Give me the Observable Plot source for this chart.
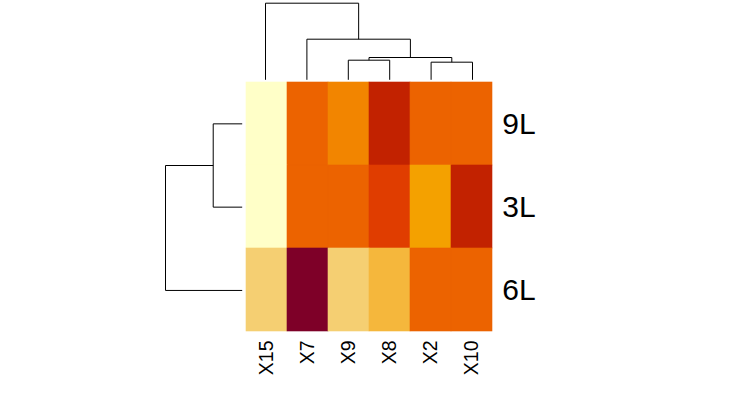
<!DOCTYPE html>
<html>
<head>
<meta charset="utf-8">
<script src="https://cdn.jsdelivr.net/npm/d3@7"></script>
<script src="https://cdn.jsdelivr.net/npm/@observablehq/plot@0.6"></script>
<style>
  body { margin: 0; background: white; }
  #wrap { position: relative; width: 735px; height: 411px; font-family: "Liberation Sans", Arial, sans-serif; }
  #wrap svg { position: absolute; left: 0; top: 0; }
</style>
</head>
<body>
<div id="wrap"></div>
<script>
// Row and column labels (in dendrogram order)
const rowNames = ["9L", "3L", "6L"];
const colNames = ["X15", "X7", "X9", "X8", "X2", "X10"];

// Cell colour levels per row (1 = darkest red ... 9 = palest yellow)
const row9L = [9, 4, 5, 2, 4, 4];
const row3L = [9, 4, 4, 3, 6, 2];
const row6L = [8, 1, 8, 7, 4, 4];

const levels = [1, 2, 3, 4, 5, 6, 7, 8, 9];
const palette = ["#7e0028", "#c22200", "#e03d00", "#ec6300", "#f28500", "#f4a100", "#f5b73c", "#f5cf72", "#ffffc8"];

// Dendrogram merges: [left, right, height]; numbers refer to earlier merges
const colMerges = [["X9", "X8", 0.256], ["X2", "X10", 0.230], [0, 1, 0.291], ["X7", 2, 0.530], ["X15", 3, 1.0]];
const rowMerges = [["9L", "3L", 0.378], [0, "6L", 1.0]];

function dendroSegments(merges, order) {
  const nodes = [];
  const pos = k => typeof k === "number" ? nodes[k] : {p: order.indexOf(k) + 0.5, h: 0};
  const segs = [];
  merges.forEach(([a, b, h]) => {
    const A = pos(a), B = pos(b);
    segs.push({p1: A.p, h1: A.h, p2: A.p, h2: h});
    segs.push({p1: B.p, h1: B.h, p2: B.p, h2: h});
    segs.push({p1: A.p, h1: h, p2: B.p, h2: h});
    nodes.push({p: (A.p + B.p) / 2, h});
  });
  return segs;
}

const rowsData = [row9L, row3L, row6L];
const cells = [];
rowNames.forEach((r, i) => colNames.forEach((c, j) => cells.push({row: r, col: c, v: rowsData[i][j]})));

const W = 735, H = 411;
const hmLeft = 244.3, hmRight = 492.7, hmTop = 81.7, hmBottom = 331.6;
const font = "Liberation Sans, Arial, sans-serif";

const heat = Plot.plot({
  width: W, height: H,
  marginLeft: hmLeft, marginRight: W - hmRight, marginTop: hmTop, marginBottom: H - hmBottom,
  style: {background: "transparent", fontFamily: font},
  x: {type: "band", domain: colNames, padding: 0, axis: null},
  y: {type: "band", domain: rowNames, padding: 0, axis: null},
  color: {type: "ordinal", domain: levels, range: palette},
  marks: [
    Plot.cell(cells, {x: "col", y: "row", fill: "v", stroke: "v", strokeWidth: 0.6, inset: 0}),
    Plot.axisX({anchor: "bottom", tickSize: 0, tickPadding: 8.4, tickRotate: -90, fontSize: 19.5, fill: "black", label: null}),
    Plot.axisY({anchor: "right", tickSize: 0, tickPadding: 9, fontSize: 30, fill: "black", label: null})
  ]
});

const colDendro = Plot.plot({
  width: W, height: H,
  style: {background: "transparent"},
  x: {type: "linear", domain: [0, colNames.length], range: [hmLeft, hmRight], axis: null},
  y: {type: "linear", domain: [0, 1], range: [79.3, 2.7], axis: null},
  marks: [
    Plot.link(dendroSegments(colMerges, colNames), {x1: "p1", y1: "h1", x2: "p2", y2: "h2", stroke: "black", strokeWidth: 1})
  ]
});

const rowDendro = Plot.plot({
  width: W, height: H,
  style: {background: "transparent"},
  x: {type: "linear", domain: [0, 1], range: [241.7, 165], axis: null},
  y: {type: "linear", domain: [0, rowNames.length], range: [hmTop, hmBottom], axis: null},
  marks: [
    Plot.link(dendroSegments(rowMerges, rowNames), {x1: "h1", y1: "p1", x2: "h2", y2: "p2", stroke: "black", strokeWidth: 1})
  ]
});

const wrap = document.getElementById("wrap");
wrap.append(heat, colDendro, rowDendro);
</script>
</body>
</html>
